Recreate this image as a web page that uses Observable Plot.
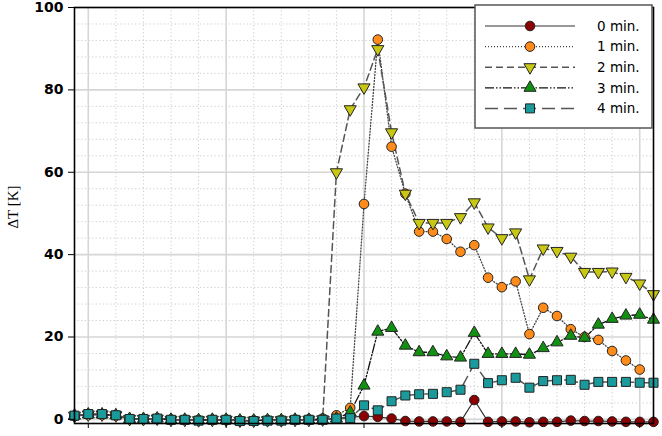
<!DOCTYPE html>
<html><head><meta charset="utf-8">
<script src="https://cdn.jsdelivr.net/npm/d3@7"></script>
<script src="https://cdn.jsdelivr.net/npm/@observablehq/plot@0.6"></script>
<style>body{margin:0;background:#fff}</style>
</head><body><div id="chart"></div>
<script>
const seriesNames = ["0 min.", "1 min.", "2 min.", "3 min.", "4 min."];
const xIndex = d3.range(43);
const v0min = [0.8,1.1,1.1,0.9,0.1,0.1,0.2,-0.1,-0.1,-0.2,-0.1,-0.1,-0.3,-0.3,-0.2,-0.2,-0.1,-0.1,0.0,0.3,0.5,
  0.8,0.6,0.2,-0.4,-0.5,-0.5,-0.5,-0.6,4.7,-0.6,-0.5,-0.5,-0.7,-0.6,-0.6,-0.3,-0.4,-0.4,-0.5,-0.6,-0.6,-0.6];
const v1min = [0.9,1.2,1.2,1.0,0.1,0.1,0.2,-0.1,-0.1,-0.2,-0.1,-0.1,-0.3,-0.3,-0.2,-0.2,-0.1,0.0,0.2,1.0,2.8,
  52.3,92.2,66.2,54.8,45.6,45.6,43.8,40.7,42.3,34.4,32.1,33.5,20.7,27.1,25.1,21.9,20.0,19.3,16.6,14.3,12.1,null];
const v2min = [0.9,1.2,1.2,1.0,0.1,0.1,0.2,-0.1,-0.1,-0.2,-0.1,-0.1,-0.3,-0.3,-0.2,-0.2,-0.1,-0.1,0.0,
  60.0,75.3,80.6,89.9,69.7,54.8,47.7,47.7,47.7,49.1,52.7,46.6,44.0,45.4,34.0,41.5,40.9,39.5,35.8,35.8,35.9,34.6,33.0,30.4];
const v3min = [0.9,1.2,1.2,1.0,0.1,0.1,0.2,-0.1,-0.1,-0.2,-0.1,-0.1,-0.3,-0.3,-0.2,-0.2,-0.1,-0.1,-0.1,0.2,1.7,
  8.2,21.3,22.2,17.9,16.3,16.3,15.3,15.0,21.0,15.9,15.9,15.9,15.7,17.3,18.7,20.3,19.8,23.0,24.4,25.2,25.4,24.2];
const v4min = [0.9,1.3,1.3,1.0,0.1,0.1,0.2,-0.1,-0.1,-0.3,-0.1,-0.1,-0.4,-0.4,-0.3,-0.3,-0.1,-0.1,-0.1,0.2,0.3,
  3.4,2.2,4.4,5.8,6.1,6.2,6.6,7.2,13.5,8.8,9.5,10.1,7.7,9.3,9.5,9.6,8.4,9.1,9.1,9.1,8.9,8.9];
const yTicks = [0, 20, 40, 60, 80, 100];
const xTicks = [1, 11, 21, 31, 41];
const yMinor = d3.range(0, 101, 4).filter(v => v % 20 !== 0);
const xMinor = d3.range(1, 43, 2).filter(v => (v - 1) % 10 !== 0);

const triangleDown = {
  draw(context, size) {
    const y = -Math.sqrt(size / (Math.sqrt(3) * 3));
    context.moveTo(0, -y * 2);
    context.lineTo(-Math.sqrt(3) * y, y);
    context.lineTo(Math.sqrt(3) * y, y);
    context.closePath();
  }
};

const values = [v0min, v1min, v2min, v3min, v4min];
const styles = [
  {fill: "#8b0000", symbol: "circle", r: 4.8, stroke: "#333", dash: null, sw: 1.2},
  {fill: "#ff8c1a", symbol: "circle", r: 4.8, stroke: "#444", dash: "1,2", sw: 1.3},
  {fill: "#c8c814", symbol: triangleDown, r: 4.5, stroke: "#555", dash: "7,4", sw: 1.5},
  {fill: "#119011", symbol: "triangle", r: 4.5, stroke: "#111", dash: "9,2,1.5,2,1.5,2", sw: 1.3},
  {fill: "#1b9a9b", symbol: "square", r: 5.1, stroke: "#555", dash: "13,6", sw: 1.5}
];
const tables = values.map((arr, k) => xIndex.map(i => ({x: i, y: arr[i], s: seriesNames[k]})).filter(d => d.y != null));

const marks = [
  Plot.ruleY(yMinor, {stroke: "#cccccc", strokeDasharray: "1.2,2.4", strokeWidth: 1}),
  Plot.ruleX(xMinor, {stroke: "#cccccc", strokeDasharray: "1.2,2.4", strokeWidth: 1}),
  Plot.ruleY(yTicks, {stroke: "#d6d6d6", strokeWidth: 1.6}),
  Plot.ruleX(xTicks, {stroke: "#d6d6d6", strokeWidth: 1.6}),
];
tables.forEach((t, k) => {
  const st = styles[k];
  marks.push(Plot.line(t, {x: "x", y: "y", stroke: st.stroke, strokeWidth: st.sw, strokeDasharray: st.dash}));
});
tables.forEach((t, k) => {
  const st = styles[k];
  marks.push(Plot.dot(t, {x: "x", y: "y", symbol: st.symbol, r: st.r, fill: st.fill, stroke: "#222", strokeWidth: 1, fillOpacity: 1}));
});
marks.push(Plot.frame({stroke: "#000", strokeWidth: 1.6}));
marks.push(Plot.axisY({ticks: yTicks, tickSize: 6, tickPadding: 5, fontSize: 14, fontWeight: "bold", label: null}));
marks.push(Plot.axisX({ticks: xTicks, tickSize: 5, tickFormat: () => "", label: null}));

const svg = Plot.plot({
  width: 662, height: 436,
  marginLeft: 74, marginRight: 9, marginTop: 7, marginBottom: 13,
  x: {domain: [0, 42]},
  y: {domain: [-1, 100]},
  style: {fontFamily: "DejaVu Sans", color: "#000", background: "#fff", overflow: "visible"},
  marks
});

const s = d3.select(svg);
s.append("text")
  .attr("transform", "translate(18,207) rotate(-90)")
  .attr("text-anchor", "middle")
  .style("font-family", "'Liberation Serif', serif")
  .style("font-size", "15px")
  .attr("fill", "#000")
  .text("ΔT [K]");

const lg = s.append("g");
lg.append("rect").attr("x", 475).attr("y", 5).attr("width", 177).attr("height", 123)
  .attr("fill", "#fff").attr("stroke", "#555").attr("stroke-width", 1.5);
seriesNames.forEach((name, k) => {
  const st = styles[k];
  const yy = 26 + k * 20.6;
  lg.append("line").attr("x1", 485).attr("x2", 575).attr("y1", yy).attr("y2", yy)
    .attr("stroke", st.stroke).attr("stroke-width", st.sw)
    .attr("stroke-dasharray", st.dash);
  const sym = typeof st.symbol === "string"
    ? {circle: d3.symbolCircle, triangle: d3.symbolTriangle, square: d3.symbolSquare}[st.symbol]
    : st.symbol;
  lg.append("path").attr("transform", `translate(530,${yy})`)
    .attr("d", d3.symbol(sym, Math.PI * st.r * st.r)())
    .attr("fill", st.fill).attr("stroke", "#222").attr("stroke-width", 1);
  lg.append("text").attr("x", 597).attr("y", yy).attr("dy", "0.36em")
    .attr("text-anchor", "start")
    .style("font-family", "'DejaVu Sans', sans-serif").style("font-size", "13.5px").attr("fill", "#000")
    .text(name);
});

document.getElementById("chart").appendChild(svg);
</script>
</body></html>
